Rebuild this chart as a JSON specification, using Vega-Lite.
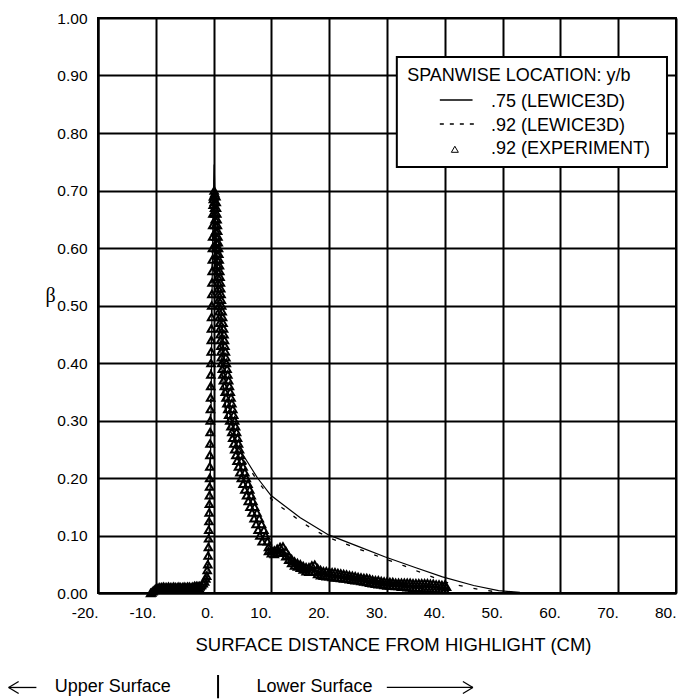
{
  "$schema": "https://vega.github.io/schema/vega-lite/v6.json",
  "width": 578,
  "height": 575,
  "autosize": {"type": "none"},
  "padding": {"left": 98, "top": 18, "right": 18, "bottom": 106},
  "background": "white",
  "config": {
    "font": "Liberation Sans",
    "view": {"stroke": "black", "strokeWidth": 2},
    "axis": {
      "grid": true, "gridColor": "black", "gridWidth": 2, "gridOpacity": 1,
      "domainColor": "black", "domainWidth": 2, "ticks": false,
      "labelFont": "Liberation Sans", "labelFontSize": 15.5, "labelColor": "black",
      "labelOverlap": false, "labelBound": false, "labelFlush": false,
      "titleFont": "Liberation Sans", "titleFontWeight": "normal", "titleColor": "black"
    }
  },
  "datasets": {
    "exp": [
      {"x":-10.9,"b":0.0},{"x":-10.7,"b":0.001},{"x":-10.5,"b":0.003},{"x":-10.3,"b":0.005},{"x":-10.1,"b":0.007},{"x":-9.9,"b":0.008},{"x":-9.6,"b":0.009},{"x":-9.3,"b":0.01},{"x":-9.0,"b":0.01},{"x":-8.7,"b":0.011},{"x":-8.4,"b":0.01},{"x":-8.1,"b":0.01},{"x":-7.8,"b":0.011},{"x":-7.5,"b":0.01},{"x":-7.2,"b":0.01},{"x":-6.9,"b":0.011},{"x":-6.6,"b":0.01},{"x":-6.3,"b":0.01},{"x":-6.0,"b":0.011},{"x":-5.7,"b":0.01},{"x":-5.4,"b":0.01},{"x":-5.1,"b":0.011},{"x":-4.8,"b":0.01},{"x":-4.5,"b":0.011},{"x":-4.2,"b":0.011},{"x":-3.9,"b":0.01},{"x":-3.6,"b":0.011},{"x":-3.3,"b":0.012},{"x":-3.0,"b":0.012},{"x":-2.7,"b":0.012},
      {"x":-9.75,"b":0.006},{"x":-9.35,"b":0.007},{"x":-8.95,"b":0.007},{"x":-8.55,"b":0.007},{"x":-8.15,"b":0.007},{"x":-7.75,"b":0.007},{"x":-7.35,"b":0.007},{"x":-6.95,"b":0.007},{"x":-6.55,"b":0.007},{"x":-6.15,"b":0.007},{"x":-5.75,"b":0.007},{"x":-5.35,"b":0.007},{"x":-4.95,"b":0.007},{"x":-4.55,"b":0.007},{"x":-4.15,"b":0.008},{"x":-3.75,"b":0.008},{"x":-3.35,"b":0.008},{"x":-2.95,"b":0.008},{"x":-2.55,"b":0.009},
      {"x":-2.4,"b":0.012},{"x":-2.1,"b":0.014},{"x":-1.8,"b":0.017},{"x":-1.55,"b":0.02},{"x":-1.35,"b":0.025},{"x":-1.2,"b":0.03},{"x":-1.1,"b":0.04},{"x":-1.0,"b":0.05},{"x":-0.95,"b":0.065},{"x":-0.9,"b":0.08},{"x":-0.87,"b":0.095},{"x":-0.84,"b":0.11},{"x":-0.8,"b":0.125},{"x":-0.77,"b":0.14},{"x":-0.74,"b":0.155},{"x":-0.72,"b":0.17},{"x":-0.7,"b":0.185},{"x":-0.68,"b":0.2},{"x":-0.66,"b":0.22},{"x":-0.64,"b":0.24},{"x":-0.62,"b":0.26},{"x":-0.6,"b":0.28},{"x":-0.58,"b":0.3},{"x":-0.55,"b":0.32},{"x":-0.52,"b":0.34},{"x":-0.5,"b":0.36},{"x":-0.48,"b":0.38},{"x":-0.45,"b":0.4},{"x":-0.42,"b":0.42},{"x":-0.4,"b":0.44},{"x":-0.38,"b":0.46},{"x":-0.35,"b":0.48},{"x":-0.33,"b":0.5},{"x":-0.3,"b":0.52},{"x":-0.28,"b":0.54},{"x":-0.25,"b":0.56},{"x":-0.22,"b":0.58},{"x":-0.2,"b":0.6},{"x":-0.17,"b":0.62},{"x":-0.15,"b":0.64},{"x":-0.12,"b":0.66},{"x":-0.08,"b":0.675},{"x":-0.04,"b":0.685},{"x":0.0,"b":0.69},{"x":0.1,"b":0.7},{"x":0.2,"b":0.695},
      {"x":0.05,"b":0.69},{"x":0.11,"b":0.68},{"x":0.16,"b":0.67},{"x":0.22,"b":0.66},{"x":0.27,"b":0.65},{"x":0.33,"b":0.64},{"x":0.38,"b":0.63},{"x":0.44,"b":0.62},{"x":0.49,"b":0.61},{"x":0.55,"b":0.6},{"x":0.59,"b":0.59},{"x":0.62,"b":0.58},{"x":0.66,"b":0.57},{"x":0.69,"b":0.56},{"x":0.73,"b":0.55},{"x":0.76,"b":0.54},{"x":0.8,"b":0.53},{"x":0.83,"b":0.52},{"x":0.87,"b":0.51},{"x":0.9,"b":0.5},{"x":0.95,"b":0.49},{"x":1.0,"b":0.48},{"x":1.05,"b":0.47},{"x":1.1,"b":0.46},{"x":1.15,"b":0.45},{"x":1.2,"b":0.44},{"x":1.25,"b":0.43},{"x":1.3,"b":0.42},{"x":1.35,"b":0.41},{"x":1.4,"b":0.4},{"x":1.5,"b":0.39},{"x":1.6,"b":0.38},{"x":1.7,"b":0.37},{"x":1.85,"b":0.36},{"x":2.0,"b":0.35},{"x":2.15,"b":0.34},{"x":2.3,"b":0.33},{"x":2.45,"b":0.32},{"x":2.6,"b":0.31},{"x":2.8,"b":0.3},{"x":3.0,"b":0.29},{"x":3.15,"b":0.28},{"x":3.3,"b":0.27},{"x":3.5,"b":0.26},{"x":3.65,"b":0.25},{"x":3.85,"b":0.24},{"x":4.05,"b":0.23},{"x":4.3,"b":0.22},{"x":4.55,"b":0.21},{"x":4.8,"b":0.2},{"x":5.1,"b":0.19},{"x":5.4,"b":0.18},{"x":5.7,"b":0.17},{"x":6.0,"b":0.16},{"x":6.3,"b":0.15},{"x":6.65,"b":0.14},{"x":7.0,"b":0.13},{"x":7.35,"b":0.12},{"x":7.7,"b":0.11},{"x":8.0,"b":0.1},{"x":8.4,"b":0.09},
      {"x":0.4,"b":0.69},{"x":0.45,"b":0.68},{"x":0.5,"b":0.67},{"x":0.55,"b":0.66},{"x":0.6,"b":0.65},{"x":0.65,"b":0.64},{"x":0.7,"b":0.63},{"x":0.75,"b":0.62},{"x":0.8,"b":0.61},{"x":0.85,"b":0.6},{"x":0.9,"b":0.59},{"x":0.96,"b":0.58},{"x":1.01,"b":0.57},{"x":1.07,"b":0.56},{"x":1.12,"b":0.55},{"x":1.18,"b":0.54},{"x":1.23,"b":0.53},{"x":1.29,"b":0.52},{"x":1.34,"b":0.51},{"x":1.4,"b":0.5},{"x":1.48,"b":0.49},{"x":1.56,"b":0.48},{"x":1.64,"b":0.47},{"x":1.72,"b":0.46},{"x":1.8,"b":0.45},{"x":1.88,"b":0.44},{"x":1.96,"b":0.43},{"x":2.04,"b":0.42},{"x":2.12,"b":0.41},{"x":2.2,"b":0.4},{"x":2.33,"b":0.39},{"x":2.46,"b":0.38},{"x":2.6,"b":0.37},{"x":2.74,"b":0.36},{"x":2.88,"b":0.35},{"x":3.02,"b":0.34},{"x":3.16,"b":0.33},{"x":3.32,"b":0.32},{"x":3.48,"b":0.31},{"x":3.64,"b":0.3},{"x":3.8,"b":0.29},{"x":3.97,"b":0.28},{"x":4.14,"b":0.27},{"x":4.31,"b":0.26},{"x":4.48,"b":0.25},{"x":4.64,"b":0.24},{"x":4.8,"b":0.23},{"x":5.1,"b":0.22},{"x":5.4,"b":0.21},{"x":5.65,"b":0.2},{"x":5.95,"b":0.19},{"x":6.25,"b":0.18},{"x":6.5,"b":0.17},{"x":6.8,"b":0.16},{"x":7.1,"b":0.15},{"x":7.5,"b":0.14},{"x":7.9,"b":0.13},{"x":8.3,"b":0.12},{"x":8.7,"b":0.11},{"x":9.0,"b":0.1},{"x":9.3,"b":0.09},
      {"x":9.5,"b":0.08},{"x":9.5,"b":0.073},{"x":10.0,"b":0.075},{"x":10.0,"b":0.069},{"x":10.5,"b":0.074},{"x":10.5,"b":0.068},{"x":11.0,"b":0.077},{"x":11.0,"b":0.07},{"x":11.5,"b":0.08},{"x":11.5,"b":0.071},{"x":12.0,"b":0.081},{"x":12.0,"b":0.07},{"x":12.5,"b":0.073},{"x":12.5,"b":0.064},{"x":13.0,"b":0.065},{"x":13.0,"b":0.058},{"x":13.5,"b":0.059},{"x":13.5,"b":0.052},{"x":14.0,"b":0.055},{"x":14.0,"b":0.048},{"x":14.5,"b":0.052},{"x":14.5,"b":0.046},{"x":15.0,"b":0.05},{"x":15.0,"b":0.044},{"x":15.5,"b":0.047},{"x":15.5,"b":0.041},{"x":16.0,"b":0.045},{"x":16.0,"b":0.038},{"x":16.5,"b":0.045},{"x":16.5,"b":0.037},{"x":17.0,"b":0.048},{"x":17.0,"b":0.038},{"x":17.5,"b":0.049},{"x":17.5,"b":0.037},{"x":18.0,"b":0.043},{"x":18.0,"b":0.033},{"x":18.5,"b":0.04},{"x":18.5,"b":0.031},{"x":19.0,"b":0.038},{"x":19.0,"b":0.03},{"x":19.5,"b":0.038},{"x":19.5,"b":0.029},{"x":20.0,"b":0.037},{"x":20.0,"b":0.029},{"x":20.5,"b":0.036},{"x":20.5,"b":0.028},{"x":21.0,"b":0.036},{"x":21.0,"b":0.027},{"x":21.5,"b":0.035},{"x":21.5,"b":0.027},{"x":22.0,"b":0.034},{"x":22.0,"b":0.026},{"x":22.5,"b":0.033},{"x":22.5,"b":0.025},{"x":23.0,"b":0.032},{"x":23.0,"b":0.025},{"x":23.5,"b":0.031},{"x":23.5,"b":0.024},{"x":24.0,"b":0.03},{"x":24.0,"b":0.023},{"x":24.5,"b":0.029},{"x":24.5,"b":0.022},{"x":25.0,"b":0.028},{"x":25.0,"b":0.022},{"x":25.5,"b":0.027},{"x":25.5,"b":0.021},{"x":26.0,"b":0.026},{"x":26.0,"b":0.02},{"x":26.5,"b":0.026},{"x":26.5,"b":0.019},{"x":27.0,"b":0.025},{"x":27.0,"b":0.018},{"x":27.5,"b":0.023},{"x":27.5,"b":0.017},{"x":28.0,"b":0.022},{"x":28.0,"b":0.016},{"x":28.5,"b":0.022},{"x":28.5,"b":0.015},{"x":29.0,"b":0.021},{"x":29.0,"b":0.015},{"x":29.5,"b":0.02},{"x":29.5,"b":0.014},{"x":30.0,"b":0.02},{"x":30.0,"b":0.013},{"x":30.5,"b":0.019},{"x":30.5,"b":0.013},{"x":31.0,"b":0.019},{"x":31.0,"b":0.013},{"x":31.5,"b":0.018},{"x":31.5,"b":0.012},{"x":32.0,"b":0.018},{"x":32.0,"b":0.012},{"x":32.5,"b":0.018},{"x":32.5,"b":0.011},{"x":33.0,"b":0.018},{"x":33.0,"b":0.011},{"x":33.5,"b":0.018},{"x":33.5,"b":0.01},{"x":34.0,"b":0.018},{"x":34.0,"b":0.01},{"x":34.5,"b":0.017},{"x":34.5,"b":0.009},{"x":35.0,"b":0.017},{"x":35.0,"b":0.009},{"x":35.5,"b":0.017},{"x":35.5,"b":0.009},{"x":36.0,"b":0.017},{"x":36.0,"b":0.008},{"x":36.5,"b":0.017},{"x":36.5,"b":0.008},{"x":37.0,"b":0.017},{"x":37.0,"b":0.008},{"x":37.5,"b":0.016},{"x":37.5,"b":0.007},{"x":38.0,"b":0.016},{"x":38.0,"b":0.007},{"x":38.5,"b":0.015},{"x":38.5,"b":0.007},{"x":39.0,"b":0.015},{"x":39.0,"b":0.006},{"x":39.5,"b":0.014},{"x":39.5,"b":0.006},{"x":40.0,"b":0.014},{"x":40.0,"b":0.006},{"x":40.3,"b":0.011}
    ],
    "l75": [
      {"x":-2.6,"b":0},{"x":-1.8,"b":0.002},{"x":-1.3,"b":0.01},{"x":-1.0,"b":0.03},{"x":-0.8,"b":0.08},{"x":-0.6,"b":0.18},{"x":-0.45,"b":0.3},{"x":-0.35,"b":0.42},{"x":-0.25,"b":0.54},{"x":-0.1,"b":0.66},{"x":0.1,"b":0.745},{"x":0.3,"b":0.66},{"x":0.6,"b":0.55},{"x":1.0,"b":0.46},{"x":1.5,"b":0.38},{"x":2.0,"b":0.33},{"x":2.5,"b":0.3},{"x":3.0,"b":0.28},{"x":4.0,"b":0.258},{"x":5.3,"b":0.237},{"x":7.6,"b":0.2},{"x":9.9,"b":0.17},{"x":11.3,"b":0.159},{"x":15,"b":0.131},{"x":19.9,"b":0.101},{"x":25,"b":0.081},{"x":29.6,"b":0.063},{"x":35,"b":0.044},{"x":39.6,"b":0.028},{"x":45,"b":0.013},{"x":49.3,"b":0.004},{"x":53,"b":0.001},{"x":56,"b":0}
    ],
    "l92": [
      {"x":-2.8,"b":0},{"x":-2.0,"b":0.002},{"x":-1.4,"b":0.01},{"x":-1.1,"b":0.03},{"x":-0.9,"b":0.08},{"x":-0.7,"b":0.18},{"x":-0.55,"b":0.3},{"x":-0.42,"b":0.42},{"x":-0.3,"b":0.54},{"x":-0.12,"b":0.65},{"x":0.1,"b":0.72},{"x":0.3,"b":0.65},{"x":0.6,"b":0.54},{"x":1.0,"b":0.45},{"x":1.5,"b":0.37},{"x":2.0,"b":0.32},{"x":3.0,"b":0.275},{"x":4.0,"b":0.25},{"x":5.3,"b":0.23},{"x":7.6,"b":0.195},{"x":10,"b":0.163},{"x":11.9,"b":0.148},{"x":15,"b":0.125},{"x":17.3,"b":0.11},{"x":20,"b":0.096},{"x":25,"b":0.077},{"x":30,"b":0.058},{"x":33,"b":0.047},{"x":36,"b":0.035},{"x":41,"b":0.016},{"x":46,"b":0.006},{"x":49,"b":0.002},{"x":51,"b":0}
    ],
    "box": [{"x":31.7,"x2":78.44,"b":0.9322,"b2":0.7409}],
    "texts": [
      {"x":33.49,"b":0.891,"t":"SPANWISE LOCATION: y/b"},
      {"x":47.98,"b":0.8447,"t":".75 (LEWICE3D)"},
      {"x":47.98,"b":0.8035,"t":".92 (LEWICE3D)"},
      {"x":47.98,"b":0.763,"t":".92 (EXPERIMENT)"},
      {"x":-27.5,"b":-0.1717,"t":"Upper Surface"},
      {"x":7.42,"b":-0.1717,"t":"Lower Surface"}
    ],
    "rules": [
      {"k":"arrow","x":-35.46,"x2":-30.66,"b":-0.1643,"b2":-0.1643},
      {"k":"arrow","x":-35.46,"x2":-33.73,"b":-0.1643,"b2":-0.1539},
      {"k":"arrow","x":-35.46,"x2":-33.73,"b":-0.1643,"b2":-0.1748},
      {"k":"arrow","x":29.97,"x2":44.86,"b":-0.1643,"b2":-0.1643},
      {"k":"arrow","x":44.86,"x2":43.13,"b":-0.1643,"b2":-0.1539},
      {"k":"arrow","x":44.86,"x2":43.13,"b":-0.1643,"b2":-0.1748},
      {"k":"bar","x":0.77,"x2":0.77,"b":-0.1426,"b2":-0.1831},
      {"k":"solid","x":39.14,"x2":44.8,"b":0.8574,"b2":0.8574},
      {"k":"dash","x":39.14,"x2":45.2,"b":0.8157,"b2":0.8157}
    ],
    "legpt": [{"x":41.74,"b":0.7717}]
  },
  "encoding": {
    "x": {
      "field": "x", "type": "quantitative",
      "scale": {"domain": [-20, 80], "nice": false, "zero": false},
      "axis": {
        "values": [-20, -10, 0, 10, 20, 30, 40, 50, 60, 70, 80],
        "labelExpr": "datum.value + '.'",
        "labelAlign": "right", "labelDx": 18, "labelBaseline": "top", "labelPadding": 12,
        "title": "SURFACE DISTANCE FROM HIGHLIGHT (CM)",
        "titleFontSize": 18.5, "titleX": 295, "titleY": 57,
        "titleAlign": "center", "titleBaseline": "alphabetic"
      }
    },
    "y": {
      "field": "b", "type": "quantitative",
      "scale": {"domain": [0, 1], "nice": false, "zero": false},
      "axis": {
        "values": [0, 0.1, 0.2, 0.3, 0.4, 0.5, 0.6, 0.7, 0.8, 0.9, 1.0],
        "format": ".2f", "labelPadding": 11,
        "title": "β", "titleAngle": 0, "titleFont": "Liberation Serif", "titleFontSize": 20,
        "titleX": -48, "titleY": 277, "titleAlign": "center", "titleBaseline": "middle"
      }
    }
  },
  "layer": [
    {
      "data": {"name": "exp"},
      "mark": {"type": "point", "shape": "triangle-up", "filled": false, "size": 56, "stroke": "black", "strokeWidth": 2, "opacity": 1}
    },
    {
      "data": {"name": "l92"},
      "mark": {"type": "line", "color": "black", "strokeWidth": 1.3, "strokeDash": [4, 11]}
    },
    {
      "data": {"name": "l75"},
      "mark": {"type": "line", "color": "black", "strokeWidth": 1.2}
    },
    {
      "data": {"name": "box"},
      "mark": {"type": "rect", "fill": "white", "stroke": "black", "strokeWidth": 2},
      "encoding": {"x2": {"field": "x2"}, "y2": {"field": "b2"}}
    },
    {
      "data": {"name": "texts"},
      "mark": {"type": "text", "align": "left", "baseline": "alphabetic", "fontSize": 18, "font": "Liberation Sans", "color": "black"},
      "encoding": {"text": {"field": "t", "type": "nominal"}}
    },
    {
      "data": {"name": "rules"},
      "transform": [{"filter": "datum.k === 'arrow' || datum.k === 'solid'"}],
      "mark": {"type": "rule", "color": "black", "strokeWidth": 1.3},
      "encoding": {"x2": {"field": "x2"}, "y2": {"field": "b2"}}
    },
    {
      "data": {"name": "rules"},
      "transform": [{"filter": "datum.k === 'bar'"}],
      "mark": {"type": "rule", "color": "black", "strokeWidth": 2},
      "encoding": {"x2": {"field": "x2"}, "y2": {"field": "b2"}}
    },
    {
      "data": {"name": "rules"},
      "transform": [{"filter": "datum.k === 'dash'"}],
      "mark": {"type": "rule", "color": "black", "strokeWidth": 1.5, "strokeDash": [4, 6]},
      "encoding": {"x2": {"field": "x2"}, "y2": {"field": "b2"}}
    },
    {
      "data": {"name": "legpt"},
      "mark": {"type": "point", "shape": "triangle-up", "filled": false, "size": 49, "stroke": "black", "strokeWidth": 1, "opacity": 1}
    }
  ]
}
